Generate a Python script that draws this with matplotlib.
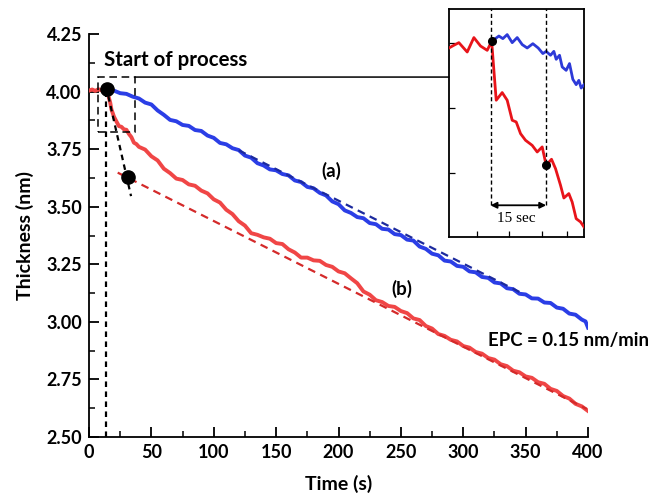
import matplotlib
matplotlib.use("Agg")
import matplotlib.pyplot as plt
from matplotlib.patches import Rectangle, ConnectionPatch

plt.rcParams['font.family'] = ['Lato', 'DejaVu Sans']
plt.rcParams['font.weight'] = 'bold'

# ---------------- data ----------------
blue_t = [13.5, 15, 20, 25, 30, 35, 40, 45, 50, 55, 60, 65, 70, 75, 80, 85, 90, 95, 100,
          105, 110, 115, 120, 125, 130, 135, 140, 145, 150, 155, 160, 165, 170, 175, 180,
          185, 190, 195, 200, 205, 210, 215, 220, 225, 230, 235, 240, 245, 250, 255, 260,
          265, 270, 275, 280, 285, 290, 295, 300, 305, 310, 315, 320, 325, 330, 335, 340,
          345, 350, 355, 360, 365, 370, 375, 380, 385, 390, 395, 398, 400]
blue_v = [4.010, 4.010, 4.004, 3.993, 3.990, 3.978, 3.970, 3.952, 3.944, 3.918, 3.899, 3.877,
          3.871, 3.855, 3.851, 3.833, 3.829, 3.809, 3.799, 3.777, 3.771, 3.754, 3.746, 3.722,
          3.713, 3.689, 3.679, 3.662, 3.658, 3.642, 3.636, 3.614, 3.607, 3.586, 3.580, 3.560,
          3.549, 3.523, 3.511, 3.484, 3.473, 3.455, 3.450, 3.429, 3.424, 3.404, 3.401, 3.381,
          3.377, 3.357, 3.353, 3.327, 3.317, 3.296, 3.289, 3.266, 3.262, 3.243, 3.239, 3.219,
          3.215, 3.195, 3.191, 3.171, 3.167, 3.146, 3.142, 3.122, 3.119, 3.102, 3.101, 3.084,
          3.082, 3.062, 3.057, 3.036, 3.031, 3.010, 3.002, 2.975]

red_t = [0, 2.5, 5, 7.5, 10, 12.5, 14, 15, 16, 17, 18, 19, 20, 22, 24, 26, 28, 30, 32, 34,
         36, 38, 40, 45, 50, 55, 60, 65, 70, 75, 80, 85, 90, 95, 100, 105, 110, 115, 120,
         125, 130, 135, 140, 145, 150, 155, 160, 165, 170, 175, 180, 185, 190, 195, 200,
         205, 210, 215, 220, 225, 230, 235, 240, 245, 250, 255, 260, 265, 270, 275, 280,
         285, 290, 295, 300, 305, 310, 315, 320, 325, 330, 335, 340, 345, 350, 355, 360,
         365, 370, 375, 380, 385, 390, 395, 400]
red_v = [4.004, 4.009, 4.003, 4.010, 4.005, 4.009, 4.010, 3.995, 3.972, 3.952, 3.922, 3.907,
         3.891, 3.870, 3.850, 3.847, 3.836, 3.834, 3.816, 3.802, 3.778, 3.772, 3.760, 3.748,
         3.719, 3.701, 3.665, 3.646, 3.622, 3.616, 3.597, 3.591, 3.570, 3.558, 3.532, 3.518,
         3.487, 3.468, 3.437, 3.418, 3.385, 3.378, 3.367, 3.361, 3.342, 3.338, 3.315, 3.301,
         3.279, 3.279, 3.267, 3.265, 3.247, 3.239, 3.219, 3.211, 3.189, 3.168, 3.132, 3.118,
         3.094, 3.086, 3.069, 3.065, 3.047, 3.038, 3.015, 3.008, 2.982, 2.971, 2.947, 2.939,
         2.922, 2.915, 2.895, 2.888, 2.869, 2.862, 2.843, 2.836, 2.816, 2.808, 2.788, 2.781,
         2.763, 2.757, 2.738, 2.731, 2.709, 2.700, 2.678, 2.667, 2.644, 2.633, 2.613]

fit_a_t = [120, 345]
fit_a_v = [3.745, 3.130]
fit_b_t = [23, 399]
fit_b_v = [3.648, 2.622]

start_t = 13.5
slope_t = [15.5, 33.7]
slope_v = [3.980, 3.546]
dots_t = [14.2, 31.5]
dots_v = [4.009, 3.627]
box_t = [7.5, 36.9]
box_v = [3.825, 4.063]

x_ticks = [0, 50, 100, 150, 200, 250, 300, 350, 400]
y_ticks = [2.50, 2.75, 3.00, 3.25, 3.50, 3.75, 4.00, 4.25]

# inset data
in_red_t = [2.8, 4.12, 5.46, 7.71, 9.51, 11.30, 13.10, 14.3, 15.53, 17.14, 18.49, 19.84,
            20.92, 22.09, 23.43, 25.23, 26.58, 27.93, 29.0, 30.44, 31.52, 32.87, 33.77,
            35.11, 36.01, 37.09, 38.26, 39.2]
in_red_v = [3.9964, 3.9985, 4.0005, 3.9933, 4.0044, 3.9979, 3.9946, 4.0015, 3.9562, 3.9621,
            3.9562, 3.9408, 3.9395, 3.9305, 3.9254, 3.9215, 3.9164, 3.9203, 3.9062, 3.9108,
            3.9036, 3.8908, 3.8810, 3.8844, 3.8779, 3.8651, 3.8626, 3.8587]
in_blue_t = [14.3, 16.25, 17.32, 18.49, 19.84, 21.19, 22.54, 23.88, 25.41, 26.85, 28.11,
             29.0, 30.17, 31.07, 31.70, 32.60, 33.32, 34.39, 35.29, 36.19, 37.09, 37.81,
             38.44, 39.2]
in_blue_v = [4.0015, 4.0056, 4.0036, 4.0067, 4.0005, 4.0044, 3.9990, 3.9964, 3.9997, 3.9964,
             3.9921, 3.9938, 3.9908, 3.9938, 3.9877, 3.9908, 3.9818, 3.9792, 3.9844, 3.9723,
             3.9682, 3.9715, 3.9656, 3.9682]
in_dots_t = [14.3, 29.0]
in_dots_v = [4.0015, 3.9062]
in_lines_t = [14.0, 29.0]
in_yticks = [3.90, 3.95, 4.00]
in_xticks = [10.4, 18.9, 27.9, 34.5]

# ---------------- figure ----------------
fig = plt.figure(figsize=(6.52, 5.04), dpi=100)
ax = fig.add_axes([89/652, 1 - 437/504, (588-89)/652, (437-34)/504])

BLUE = '#2b3ee6'
RED = '#f04646'

ax.plot(red_t, red_v, color=RED, lw=2.8, zorder=3)
ax.plot(blue_t, blue_v, color=BLUE, lw=2.8, zorder=3)
ax.plot(fit_a_t, fit_a_v, color='#1c2a9e', lw=1.6, ls=(0, (3.5, 2.5)), zorder=4)
ax.plot(fit_b_t, fit_b_v, color='#d42a2a', lw=1.6, ls=(0, (3.5, 2.5)), zorder=4)

ax.plot([start_t, start_t], [2.5, dots_v[0]], color='black', lw=1.6, ls=(0, (2.5, 2)), zorder=5)
ax.plot(slope_t, slope_v, color='black', lw=1.6, ls=(0, (2.5, 2)), zorder=5)
ax.plot(dots_t, dots_v, 'o', color='black', ms=9.5, ls='none', zorder=6)

rect = Rectangle((box_t[0], box_v[0]), box_t[1]-box_t[0], box_v[1]-box_v[0],
                 fill=False, ec='black', lw=1.1, ls=(0, (5, 3)), zorder=5)
ax.add_patch(rect)

ax.set_xlim(0, 400)
ax.set_ylim(2.5, 4.25)
ax.set_xticks(x_ticks)
ax.set_xticklabels([str(v) for v in x_ticks])
ax.set_yticks(y_ticks)
ax.set_yticklabels([f'{v:.2f}' for v in y_ticks])
ax.set_xticks([25 + 50*i for i in range(8)], minor=True)
ax.set_yticks([2.625 + 0.25*i for i in range(7)], minor=True)
for s in ['top', 'right']:
    ax.spines[s].set_visible(False)
for s in ['left', 'bottom']:
    ax.spines[s].set_linewidth(1.3)
ax.tick_params(which='major', direction='in', length=7, width=1.3, labelsize=13, pad=5)
ax.tick_params(which='minor', direction='in', length=4, width=1.1)
for lab in ax.get_xticklabels() + ax.get_yticklabels():
    lab.set_fontweight('bold')

ax.set_xlabel('Time (s)', fontsize=14, fontweight='bold', labelpad=10)
ax.set_ylabel('Thickness (nm)', fontsize=14, fontweight='bold', labelpad=9)

ax.text(12, 4.135, 'Start of process', fontsize=14.8, fontweight='bold', va='center', ha='left')
ax.text(194, 3.655, '(a)', fontsize=13.5, fontweight='bold', va='center', ha='center')
ax.text(251, 3.145, '(b)', fontsize=13.5, fontweight='bold', va='center', ha='center')
ax.text(320, 2.920, 'EPC = 0.15 nm/min', fontsize=13.4, fontweight='bold', va='center', ha='left',
        clip_on=False)

# inset
iax = fig.add_axes([449/652, 1 - 237/504, (584-449)/652, (237-9.5)/504])
iax.plot(in_red_t, in_red_v, color='#e8141a', lw=2.0, zorder=3)
iax.plot(in_blue_t, in_blue_v, color='#2d3ad8', lw=2.0, zorder=3)
iax.set_xlim(2.8, 39.2)
iax.set_ylim(3.851, 4.026)
for lt in in_lines_t:
    iax.plot([lt, lt], [3.8754, 4.026], color='black', lw=1.0, ls=(0, (3, 2)), zorder=4)
iax.plot(in_dots_t, in_dots_v, 'o', color='black', ms=5.5, ls='none', zorder=6)
iax.annotate('', xy=(in_lines_t[0], 3.8754), xytext=(in_lines_t[1], 3.8754),
             arrowprops=dict(arrowstyle='<|-|>', color='black', lw=1.3, mutation_scale=9,
                             shrinkA=0, shrinkB=0))
iax.text(20.9, 3.8650, '15 sec', fontsize=11, family='Liberation Serif', fontweight='normal',
         ha='center', va='center')
iax.set_xticks(in_xticks)
iax.set_yticks(in_yticks)
iax.set_xticklabels([])
iax.set_yticklabels([])
iax.tick_params(direction='in', length=4, width=0.9)
for s in iax.spines.values():
    s.set_linewidth(1.3)

con = ConnectionPatch(xyA=(box_t[1], box_v[1]), coordsA=ax.transData,
                      xyB=(0, (box_v[1] - 2.5) / 1.75 * ((437-34)/504) / ((237-9.5)/504)
                           - ((437 - 237) / 504) / ((237-9.5)/504)),
                      coordsB=iax.transAxes, color='black', lw=1.1)
fig.add_artist(con)

fig.savefig('out.png', dpi=100)
